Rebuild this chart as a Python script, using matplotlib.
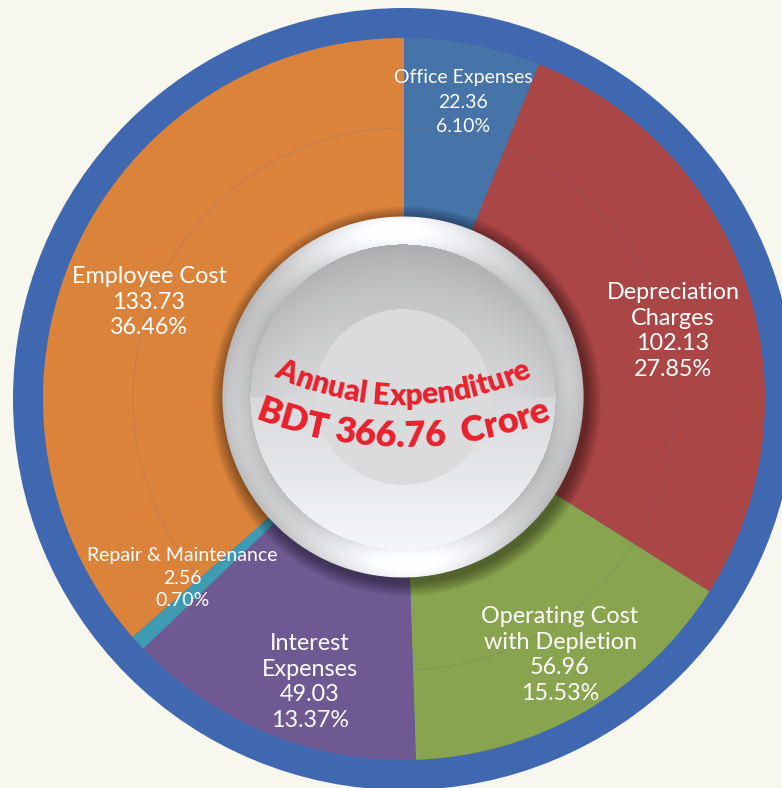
import numpy as np
import matplotlib.pyplot as plt
from matplotlib.patches import Circle
from matplotlib.font_manager import FontProperties
from matplotlib.textpath import TextToPath

# ---- data ----
categories = ['Office Expenses', 'Depreciation\nCharges', 'Operating Cost\nwith Depletion',
              'Interest\nExpenses', 'Repair & Maintenance', 'Employee Cost']
amounts = [22.36, 102.13, 56.96, 49.03, 2.56, 133.73]
shares = [6.10, 27.85, 15.53, 13.37, 0.70, 36.46]
total = 366.76
colors = ['#4673A8', '#AA4646', '#88A44E', '#6F5993', '#3F9BB1', '#DB833B']

# label placement (pixel coords, y from top) and styling per slice
label_xy = [(463, 102), (673, 331), (560, 655), (310, 682), (182, 578), (149, 302)]
label_fs = [14, 16.8, 16.8, 16.8, 14, 16.8]
label_ls = [1.55, 1.27, 1.27, 1.27, 1.38, 1.27]

W, H = 782, 788
cx, cy = 404, H - 399       # pie centre in data coords (y up)
r_in, r_out = 361, 391
ring_col = '#4068B0'
bg = '#F7F7ED'

fig = plt.figure(figsize=(W / 100, H / 100), dpi=100)
fig.patch.set_facecolor(bg)
ax = fig.add_axes([0, 0, 1, 1])

# outer blue ring
ax.add_patch(Circle((cx, cy), r_out, color=ring_col, lw=0, zorder=0))

ax.pie(shares, colors=colors, startangle=90, counterclock=False,
       radius=r_in, center=(cx, cy), wedgeprops=dict(linewidth=0))

# faint guide circle
ax.add_patch(Circle((cx, cy), 271, fill=False, ec='#6d6f86', lw=0.5, alpha=0.35, zorder=3))

# slice labels
for name, amt, pct, (lx, ly), fs, ls in zip(categories, amounts, shares,
                                            label_xy, label_fs, label_ls):
    ax.text(lx, H - ly, f'{name}\n{amt:.2f}\n{pct:.2f}%', ha='center', va='center',
            color='white', fontsize=fs, family=['Lato', 'DejaVu Sans'], linespacing=ls, zorder=5)

# ---- silver centre disc ----
sc_x, sc_y = 403, H - 397
R_disc = 181

# soft shadow
for k in range(14):
    ax.add_patch(Circle((sc_x + 3, sc_y - 4), R_disc + 14 - k, color='black',
                        alpha=0.03, lw=0, zorder=6))

n = 2 * (R_disc + 2)
xs = np.linspace(-R_disc - 2, R_disc + 2, n)
X, Y = np.meshgrid(xs, xs[::-1])
Rr = np.hypot(X, Y)
th = np.arctan2(Y, X)
b = np.full_like(Rr, 0.865)
rim = (Rr > 153) & (Rr <= R_disc)
b[rim] = (0.86 - 0.11 * np.cos(2 * th[rim]) + 0.05 * np.cos(4 * th[rim] - 0.3)
          - 0.06 * ((Rr[rim] - 167) / 14) ** 2)
bowl = (Rr > 88) & (Rr <= 153)
yr = Y[bowl] / 153
b[bowl] = 0.85 - 0.12 * yr - 0.05 * ((Rr[bowl] - 88) / 65) ** 2 * (yr > 0)
inner = Rr <= 88
b[inner] = 0.865
b = np.clip(b, 0, 1)
img = np.zeros((n, n, 4))
img[..., 0] = b * 0.995
img[..., 1] = b * 0.997
img[..., 2] = np.clip(b * 1.01, 0, 1)
img[..., 3] = np.clip(R_disc + 0.5 - Rr, 0, 1)
ax.imshow(img, extent=[sc_x - R_disc - 2, sc_x + R_disc + 2, sc_y - R_disc - 2, sc_y + R_disc + 2],
          zorder=7, interpolation='bilinear')


# ---- curved centre title ----
def arc_text(s, ccx, ccy, R, fs, color='#E8212B'):
    fp = FontProperties(family=['Lato', 'DejaVu Sans'], weight='heavy', size=fs)
    t2p = TextToPath()

    def wid(t):
        if not t:
            return 0.0
        return t2p.get_text_width_height_descent(t, fp, ismath=False)[0] / 0.72

    tot = wid(s)
    for i, ch in enumerate(s):
        if ch == ' ':
            continue
        d = (wid(s[:i]) + wid(s[:i + 1])) / 2 - tot / 2
        phi = -np.pi / 2 + d / R
        px = ccx + R * np.cos(phi)
        py = ccy + R * np.sin(phi)
        ax.text(px, py, ch, fontproperties=fp, color=color, ha='center', va='baseline',
                rotation=np.degrees(phi) + 90, rotation_mode='anchor', zorder=9)


arc_text('Annual Expenditure', 403, H - 100, 305, 21.5)
arc_text(f'BDT {total:.2f}  Crore', 403, H - 40, 407, 26)

ax.set_xlim(0, W)
ax.set_ylim(0, H)
ax.set_aspect('auto')
ax.axis('off')

fig.savefig('out.png', dpi=100, facecolor=bg)
